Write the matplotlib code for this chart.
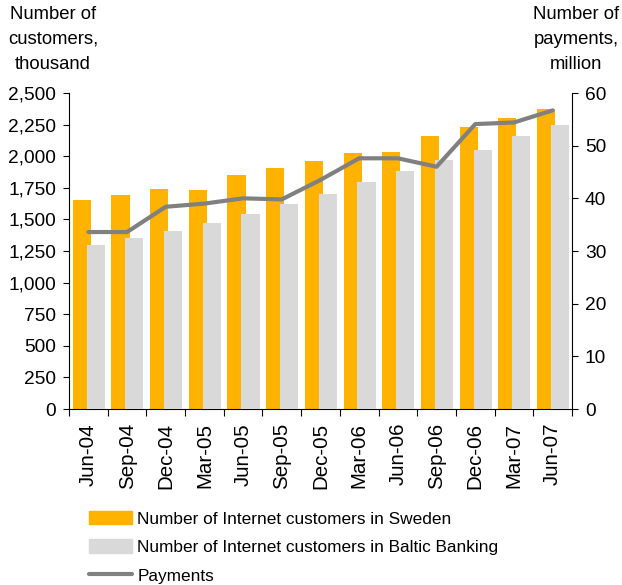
import numpy as np
import matplotlib
matplotlib.use('agg')
import matplotlib.pyplot as plt
from matplotlib.lines import Line2D
from matplotlib.patches import Patch

plt.rcParams['font.family'] = ['Liberation Sans', 'DejaVu Sans']

quarters = ['Jun-04', 'Sep-04', 'Dec-04', 'Mar-05', 'Jun-05', 'Sep-05', 'Dec-05',
            'Mar-06', 'Jun-06', 'Sep-06', 'Dec-06', 'Mar-07', 'Jun-07']
sweden = [1650, 1695, 1740, 1735, 1855, 1910, 1965,
          2025, 2035, 2160, 2230, 2300, 2370]
baltic = [1300, 1355, 1410, 1475, 1545, 1625, 1700,
          1795, 1885, 1970, 2050, 2160, 2245]
payments = [33.6, 33.6, 38.4, 39.0, 40.0, 39.8, 43.5,
            47.6, 47.6, 46.0, 54.1, 54.4, 56.7]

ORANGE = '#FFB300'
LIGHT = '#D9D9D9'
LINE = '#808080'

fig = plt.figure(figsize=(6.22, 5.85), dpi=100)
ax = fig.add_axes([69 / 622, 1 - 409 / 585, 503 / 622, 316 / 585])
ax2 = ax.twinx()

x = np.arange(len(quarters))
w = 0.47
ax.bar(x - 0.17, sweden, w, color=ORANGE, zorder=2)
ax.bar(x + 0.19, baltic, w, color=LIGHT, zorder=3)
ax2.plot(x, payments, color=LINE, lw=3, solid_capstyle='round', zorder=4)

ax.set_xlim(-0.5, len(quarters) - 0.5)
ax.set_ylim(0, 2500)
ax2.set_ylim(0, 60)
ax.set_yticks(np.arange(0, 2501, 250))
ax.set_yticklabels([f'{v:,}' for v in range(0, 2501, 250)])
ax2.set_yticks(np.arange(0, 61, 10))

# category labels centred, tick marks on the boundaries
ax.set_xticks(x)
ax.set_xticklabels(quarters, rotation=90, fontsize=14.8)
ax.tick_params(axis='x', length=0, pad=10)
ax.set_xticks(np.arange(-0.5, len(quarters)), minor=True)
ax.tick_params(axis='x', which='minor', length=5, direction='out', width=0.8)

ax.tick_params(axis='y', labelsize=13.8, length=4.3, width=0.8, pad=5)
ax2.tick_params(axis='y', labelsize=13.8, length=4.3, width=0.8, pad=5)

for a in (ax, ax2):
    a.spines['top'].set_visible(False)
    for s in a.spines.values():
        s.set_linewidth(0.8)
ax.spines['right'].set_visible(False)
ax2.spines['left'].set_visible(False)
ax2.spines['bottom'].set_visible(False)

fig.text(53 / 622, 1 - 6 / 585, 'Number of\ncustomers,\nthousand', ha='center', va='top',
         fontsize=13.3, linespacing=1.6)
fig.text(576 / 622, 1 - 6 / 585, 'Number of\npayments,\nmillion', ha='center', va='top',
         fontsize=13.3, linespacing=1.6)

handles = [Patch(color=ORANGE), Patch(color=LIGHT),
           Line2D([0], [0], color=LINE, lw=3, solid_capstyle='round')]
labels = ['Number of Internet customers in Sweden',
          'Number of Internet customers in Baltic Banking',
          'Payments']
fig.legend(handles, labels, loc='upper left', bbox_to_anchor=(89 / 622, 1 - 511 / 585),
           frameon=False, fontsize=12.4, handlelength=2.5, handleheight=0.8,
           handletextpad=0.3, labelspacing=0.75, borderaxespad=0, borderpad=0)

fig.savefig('out.png', dpi=100)
